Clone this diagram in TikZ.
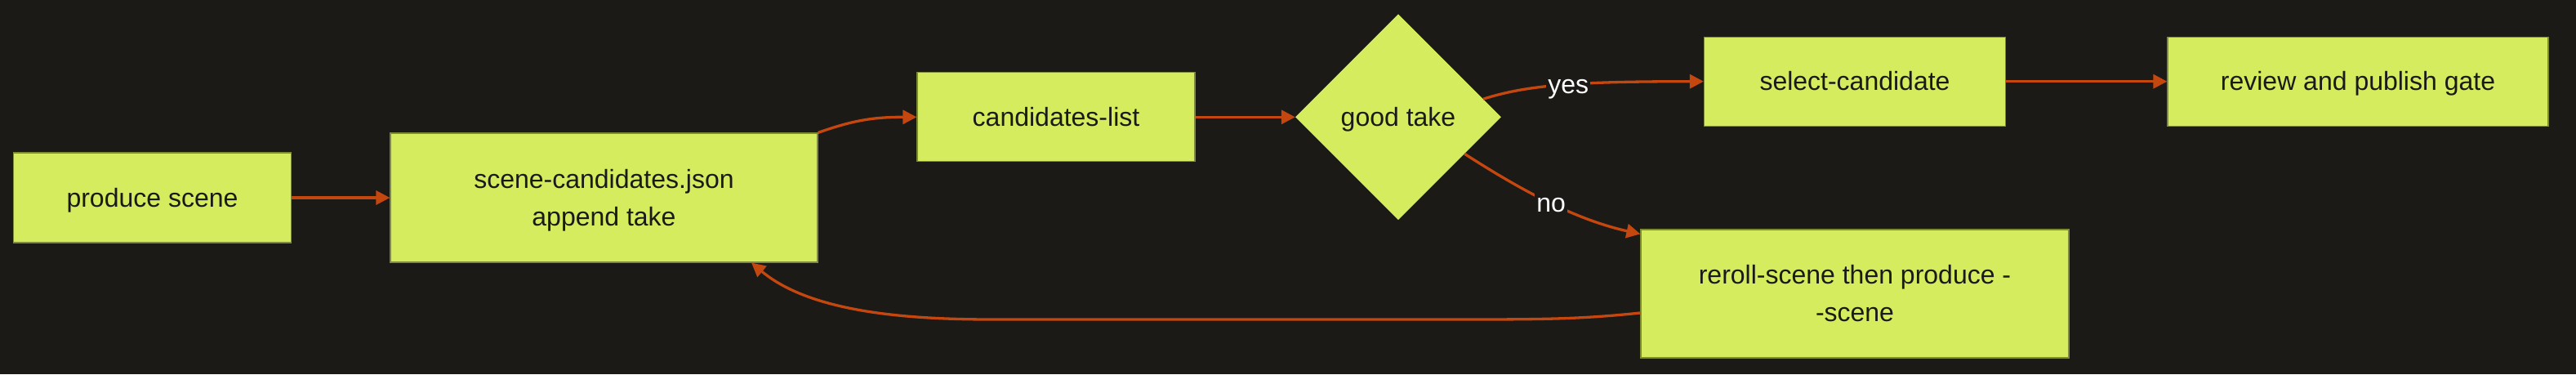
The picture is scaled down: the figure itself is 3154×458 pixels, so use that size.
\documentclass[tikz,border=0pt]{standalone}
\usepackage{fontspec}
\setmainfont{Liberation Sans}
\usetikzlibrary{arrows.meta,shapes.geometric,calc}
\definecolor{bgc}{HTML}{1B1A17}
\definecolor{boxc}{HTML}{D5EC5E}
\definecolor{edgec}{HTML}{C4470F}
\definecolor{borderc}{HTML}{7E8C3A}
\definecolor{txtc}{HTML}{1A1A1A}
\newcommand{\mystr}{\rule[-6.8pt]{0pt}{35.8pt}}
\begin{document}
\begin{tikzpicture}[x=1pt,y=-1pt,
  box/.style={draw=borderc,line width=1.2pt,fill=boxc,text=txtc,inner sep=0pt,align=center,
    font=\fontsize{32}{46}\selectfont},
  decision/.style={diamond,fill=boxc,text=txtc,inner sep=0pt,minimum width=252pt,minimum height=252pt,
    font=\fontsize{32}{46}\selectfont},
  conn/.style={draw=edgec,line width=3.3pt,-{Triangle[length=17pt,width=17pt]}},
  lbl/.style={fill=bgc,text=white,inner sep=2pt,font=\fontsize{32}{38}\selectfont}]
\fill[bgc] (0,0) rectangle (3154,458);
\useasboundingbox (0,0) rectangle (3154,458);

\node[box,minimum width=340pt,minimum height=110pt] (prod) at (186.5,242) {\mystr produce scene};
\node[box,minimum width=523pt,minimum height=158pt] (scand) at (739.5,242) {\mystr scene-candidates.json\\\mystr append take};
\node[box,minimum width=340pt,minimum height=109pt] (clist) at (1293,143.3) {\mystr candidates-list};
\node[decision] (good) at (1712,143.3) {\mystr good take};
\node[box,minimum width=369pt,minimum height=109pt] (sel) at (2271,99.7) {\mystr select-candidate};
\node[box,minimum width=466pt,minimum height=109pt] (rev) at (2887,99.7) {\mystr review and publish gate};
\node[box,minimum width=524pt,minimum height=157pt] (rr) at (2271,359.5) {\mystr reroll-scene then produce -\\\mystr -scene};

\draw[conn] (prod.east) -- (scand.west);
\draw[conn] (scand.north east) .. controls (1045,147) and (1070,143.3) .. (clist.west);
\draw[conn] (clist.east) -- (good.west);
\draw[conn] (good.12) .. controls (1870,104) and (1930,99.7) .. node[lbl,pos=0.53] {\mystr yes} (sel.west);
\draw[conn] (good.-29) .. controls (1855,228) and (1925,268) .. node[lbl,pos=0.53] {\mystr no} ($(rr.north west)+(0,6)$);
\draw[conn] (sel.east) -- (rev.west);
\draw[conn] ($(rr.west)+(0,23.5)$) .. controls (1940,390) and (1900,391) .. (1800,391) -- (1214,391)
  .. controls (1100,391) and (990,380) .. ($(scand.south)+(180.5,0)$);
\end{tikzpicture}
\end{document}
